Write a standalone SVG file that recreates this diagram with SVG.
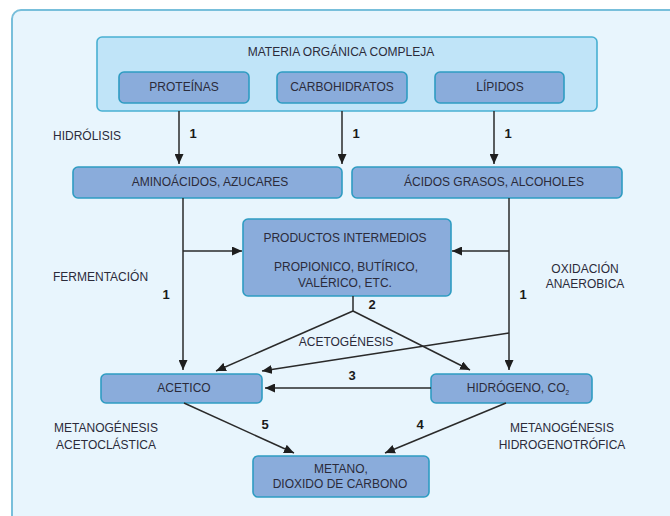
<svg xmlns="http://www.w3.org/2000/svg" width="670" height="516" viewBox="0 0 670 516">
<defs>
<style>
.t{font-family:"Liberation Sans",Arial,sans-serif;font-size:12px;fill:#2b2b3a;text-anchor:middle}
.l{text-anchor:start}
.n{font-family:"Liberation Sans",Arial,sans-serif;font-size:13px;font-weight:bold;fill:#1a1a1a;text-anchor:middle}
.box{fill:#8aacdb;stroke:#2e9cc2;stroke-width:1.6}
.c{stroke:#2a2a2a;stroke-width:1.5;fill:none}
.a{marker-end:url(#ah)}
</style>
<marker id="ah" markerUnits="userSpaceOnUse" markerWidth="11" markerHeight="9" refX="10" refY="4.5" orient="auto">
<path d="M0,0 L10,4.5 L0,9 Z" fill="#1e1e1e"/>
</marker>
</defs>
<rect x="0" y="0" width="670" height="516" fill="#ffffff"/>
<rect id="container" x="12" y="10" width="700" height="560" rx="9" fill="#e8f5fd" stroke="#78bfdb" stroke-width="2"/>

<g id="materia">
<rect x="97" y="37" width="500" height="74" rx="5" fill="#c0e4f8" stroke="#48b0d2" stroke-width="1.6"/>
<text class="t" x="341" y="56">MATERIA ORGÁNICA COMPLEJA</text>
</g>
<g id="proteinas"><rect class="box" x="119" y="72" width="130" height="31" rx="5"/><text class="t" x="184" y="91">PROTEÍNAS</text></g>
<g id="carbohidratos"><rect class="box" x="277" y="72" width="130" height="31" rx="5"/><text class="t" x="342" y="91">CARBOHIDRATOS</text></g>
<g id="lipidos"><rect class="box" x="435" y="72" width="129" height="31" rx="5"/><text class="t" x="500" y="91">LÍPIDOS</text></g>

<g id="aminoacidos"><rect class="box" x="73" y="167" width="269" height="31" rx="5"/><text class="t" x="210" y="186">AMINOÁCIDOS, AZUCARES</text></g>
<g id="acidos"><rect class="box" x="352" y="167" width="270" height="31" rx="5"/><text class="t" x="494" y="186">ÁCIDOS GRASOS, ALCOHOLES</text></g>

<g id="productos"><rect class="box" x="243" y="219" width="208" height="77" rx="5"/>
<text class="t" x="345" y="242">PRODUCTOS INTERMEDIOS</text>
<text class="t" x="346" y="271">PROPIONICO, BUTÍRICO,</text>
<text class="t" x="345" y="287">VALÉRICO, ETC.</text></g>

<g id="acetico"><rect class="box" x="101" y="374" width="161" height="29" rx="5"/><text class="t" x="184" y="392">ACETICO</text></g>
<g id="hidrogeno"><rect class="box" x="431" y="374" width="161" height="29" rx="5"/><text class="t" x="518" y="392">HIDRÓGENO, CO<tspan font-size="6.5" dy="3">2</tspan></text></g>

<g id="metano"><rect class="box" x="253" y="456" width="176" height="41" rx="5"/>
<text class="t" x="341" y="473">METANO,</text>
<text class="t" x="340" y="488">DIOXIDO DE CARBONO</text></g>

<g id="connectors">
<line class="c a" x1="179" y1="111" x2="179" y2="164"/>
<line class="c a" x1="342" y1="111" x2="342" y2="164"/>
<line class="c a" x1="494" y1="111" x2="494" y2="164"/>
<line class="c a" x1="183" y1="198" x2="183" y2="370"/>
<line class="c a" x1="183" y1="251" x2="242" y2="251"/>
<line class="c a" x1="509" y1="198" x2="509" y2="370"/>
<line class="c a" x1="509" y1="251" x2="452" y2="251"/>
<polyline class="c" points="353,296 353,311"/>
<line class="c a" x1="353" y1="311" x2="216" y2="371"/>
<line class="c a" x1="353" y1="311" x2="470" y2="370"/>
<line class="c a" x1="509" y1="333" x2="262" y2="371"/>
<line class="c a" x1="431" y1="388" x2="265" y2="388"/>
<line class="c a" x1="184" y1="403" x2="294" y2="453"/>
<line class="c a" x1="506" y1="403" x2="385" y2="453"/>
</g>

<g id="labels">
<text class="t l" x="53" y="140">HIDRÓLISIS</text>
<text class="n" x="193" y="138">1</text>
<text class="n" x="356" y="138">1</text>
<text class="n" x="508" y="138">1</text>
<text class="t l" x="53" y="281">FERMENTACIÓN</text>
<text class="n" x="166" y="299">1</text>
<text class="t" x="585" y="273">OXIDACIÓN</text>
<text class="t" x="585" y="288">ANAEROBICA</text>
<text class="n" x="523" y="299">1</text>
<text class="n" x="372" y="309">2</text>
<text class="t" x="346" y="346">ACETOGÉNESIS</text>
<text class="n" x="352" y="380">3</text>
<text class="n" x="265" y="429">5</text>
<text class="n" x="420" y="429">4</text>
<text class="t" x="106" y="432">METANOGÉNESIS</text>
<text class="t" x="106" y="449">ACETOCLÁSTICA</text>
<text class="t" x="562" y="432">METANOGÉNESIS</text>
<text class="t" x="562" y="449">HIDROGENOTRÓFICA</text>
</g>
</svg>
